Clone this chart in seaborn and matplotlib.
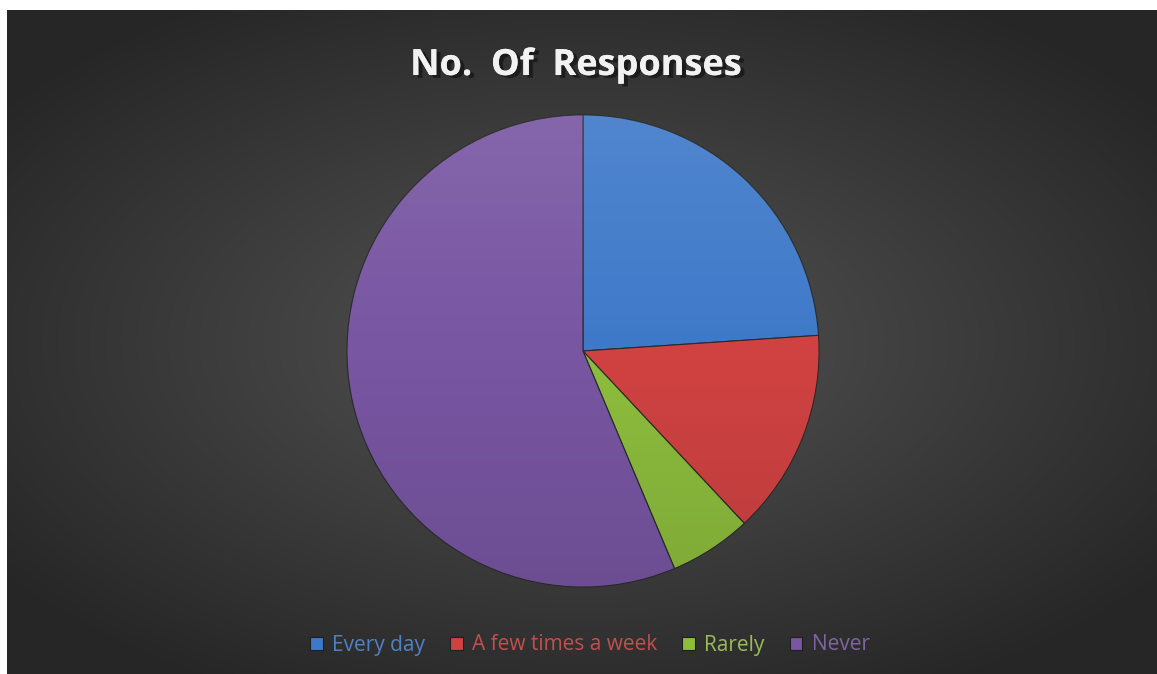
import numpy as np
import matplotlib
matplotlib.use("Agg")
import matplotlib.pyplot as plt
import matplotlib.patheffects as pe
from matplotlib.patches import Patch, Circle
import seaborn as sns

# ---- data ----
categories = ["Every day", "A few times a week", "Rarely", "Never"]
responses = [17, 10, 4, 40]
slice_colors = ["#3e79c9", "#d04242", "#8dbd3d", "#7856a2"]
legend_text_colors = ["#4f81c4", "#c0504d", "#9bbb59", "#8064a2"]
title_text = "No.  Of  Responses"

sns.set_theme(style="dark")
plt.rcParams['font.family'] = ['Open Sans', 'DejaVu Sans']

W, H = 1157, 674
fig = plt.figure(figsize=(W / 100, H / 100), dpi=100, facecolor="white")

# background with radial gradient
bg = fig.add_axes([7 / W, 0, (W - 7) / W, (H - 10) / H])
yy, xx = np.mgrid[-1:1:400j, -1:1:700j]
r = np.sqrt((xx * 0.95) ** 2 + (yy * 1.0) ** 2)
val = np.clip(1 - r / 1.2, 0, 1)
lo, hi = np.array([0.15, 0.15, 0.15]), np.array([0.33, 0.33, 0.33])
img = lo[None, None, :] + (hi - lo)[None, None, :] * val[..., None]
bg.imshow(img, aspect="auto", extent=[0, 1, 0, 1], interpolation="bilinear")
bg.set_axis_off()

# pie
cx, cy, rad = 583, H - 351, 237
ax = fig.add_axes([(cx - rad) / W, (cy - rad) / H, 2 * rad / W, 2 * rad / H])
wedges, _ = ax.pie(responses, colors=slice_colors, startangle=90, counterclock=False,
                   radius=1.0,
                   wedgeprops=dict(edgecolor="#2a2a2a", linewidth=0.8))
ax.set_xlim(-1.004, 1.004)
ax.set_ylim(-1.004, 1.004)
ax.set_aspect("equal")
ax.patch.set_alpha(0)

# subtle vertical shading over the pie
gy = np.linspace(1, 0, 256)[:, None]
shade = np.zeros((256, 2, 4))
shade[..., :3] = np.where(gy[..., None] > 0.5, 1.0, 0.0)
shade[..., 3] = (np.abs(gy - 0.5) * 0.2)
im = ax.imshow(shade, extent=[-1, 1, -1, 1], aspect="auto", zorder=3, interpolation="bilinear")
clip = Circle((0, 0), 1.0, transform=ax.transData)
im.set_clip_path(clip)
ax.set_axis_off()

# title
fig.text(576 / W, 1 - 66 / H, title_text, ha="center", va="center",
         fontsize=26, fontweight="bold", color="#f2f2f2",
         path_effects=[pe.withSimplePatchShadow(offset=(3, -2), shadow_rgbFace="black", alpha=0.45),
                       pe.Normal()])

# legend
handles = [Patch(facecolor=c, edgecolor="#1e1e1e", linewidth=0.8) for c in slice_colors]
leg = fig.legend(handles, categories, loc="center", bbox_to_anchor=(590 / W, 1 - 645 / H),
                 ncol=4, frameon=False, fontsize=15, handlelength=0.6, handleheight=0.6,
                 handletextpad=0.45, columnspacing=1.2)
for t, c in zip(leg.get_texts(), legend_text_colors):
    t.set_color(c)

fig.savefig("out.png", dpi=100, facecolor="white")
